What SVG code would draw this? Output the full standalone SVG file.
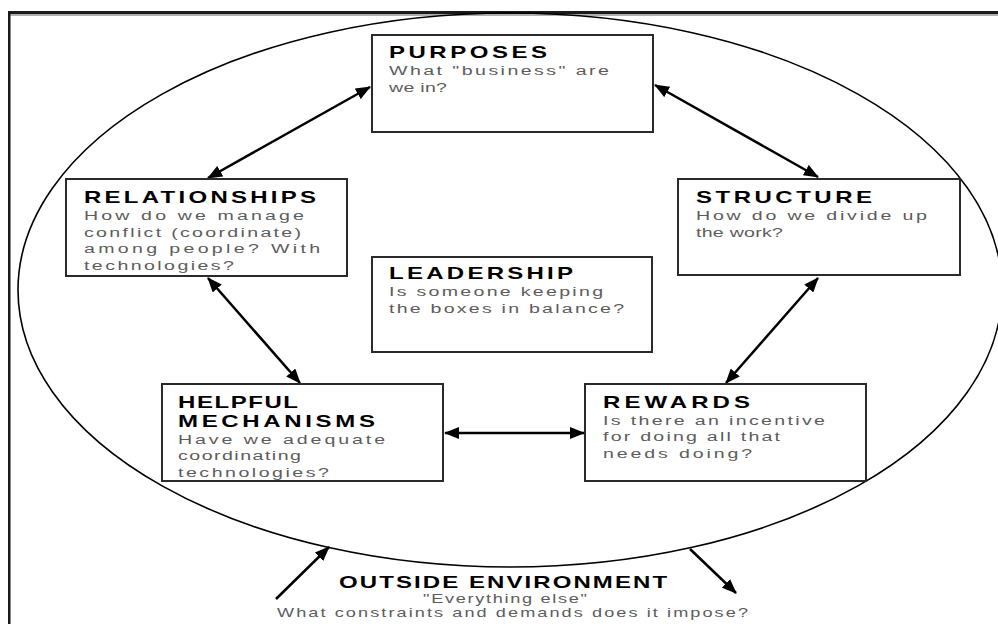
<svg xmlns="http://www.w3.org/2000/svg" width="998" height="624" viewBox="0 0 998 624">
  <style>
    .box { fill: #ffffff; stroke: #2a2a2a; stroke-width: 2; }
    .title { font-family: "Liberation Sans", Arial, sans-serif; font-weight: bold; font-size: 16px; fill: #000000; }
    .body { font-family: "Liberation Sans", Arial, sans-serif; font-size: 13.5px; fill: #5c5c5c; }
    .small { font-size: 12.5px; }
    .conn { stroke: #000000; stroke-width: 2.5; fill: none; }
  </style>
  <defs>
    <marker id="ah" viewBox="0 0 15 12" refX="14" refY="6" markerWidth="15" markerHeight="12" markerUnits="userSpaceOnUse" orient="auto-start-reverse">
      <path d="M0,0 L15,6 L0,12 z" fill="#000000"/>
    </marker>
  </defs>
  <rect x="0" y="0" width="998" height="624" fill="#ffffff"/>
  <!-- frame -->
  <rect x="8" y="11" width="990" height="3" fill="#1a1a1a"/>
  <rect x="10" y="14" width="988" height="2" fill="#b0b0b0"/>
  <rect x="8" y="11" width="2.5" height="613" fill="#1a1a1a"/>
  <!-- environment ellipse -->
  <ellipse cx="510" cy="290" rx="492" ry="277" fill="none" stroke="#000000" stroke-width="1.6"/>

  <g id="connectors">
    <line class="conn" x1="208" y1="178" x2="370" y2="87" marker-start="url(#ah)" marker-end="url(#ah)"/>
    <line class="conn" x1="655" y1="85" x2="818" y2="177" marker-start="url(#ah)" marker-end="url(#ah)"/>
    <line class="conn" x1="208" y1="278" x2="300" y2="383" marker-start="url(#ah)" marker-end="url(#ah)"/>
    <line class="conn" x1="818" y1="278" x2="726" y2="383" marker-start="url(#ah)" marker-end="url(#ah)"/>
    <line class="conn" x1="445" y1="433" x2="584" y2="433" marker-start="url(#ah)" marker-end="url(#ah)"/>
    <line class="conn" x1="276" y1="599" x2="329" y2="547" marker-end="url(#ah)"/>
    <line class="conn" x1="690" y1="549" x2="736" y2="593" marker-end="url(#ah)"/>
  </g>

  <g id="purposes">
    <rect class="box" x="372" y="35" width="281" height="97"/>
    <text class="title" transform="translate(389 58) scale(1.5 1)" textLength="105.3" lengthAdjust="spacing">PURPOSES</text>
    <text class="body" transform="translate(389 75) scale(1.45 1)" textLength="151.7" lengthAdjust="spacing">What "business" are</text>
    <text class="body" transform="translate(389 92) scale(1.45 1)" textLength="40" lengthAdjust="spacing">we in?</text>
  </g>

  <g id="relationships">
    <rect class="box" x="66" y="179" width="281" height="97"/>
    <text class="title" transform="translate(84 203) scale(1.5 1)" textLength="154.7" lengthAdjust="spacing">RELATIONSHIPS</text>
    <text class="body" transform="translate(84 220) scale(1.45 1)" textLength="151.7" lengthAdjust="spacing">How do we manage</text>
    <text class="body" transform="translate(84 236.5) scale(1.45 1)" textLength="149.7" lengthAdjust="spacing">conflict (coordinate)</text>
    <text class="body" transform="translate(84 253) scale(1.45 1)" textLength="162.8" lengthAdjust="spacing">among people? With</text>
    <text class="body" transform="translate(84 269.5) scale(1.45 1)" textLength="103.4" lengthAdjust="spacing">technologies?</text>
  </g>

  <g id="leadership">
    <rect class="box" x="372" y="257" width="280" height="95"/>
    <text class="title" transform="translate(389 279) scale(1.5 1)" textLength="122.7" lengthAdjust="spacing">LEADERSHIP</text>
    <text class="body" transform="translate(389 296) scale(1.45 1)" textLength="147.6" lengthAdjust="spacing">Is someone keeping</text>
    <text class="body" transform="translate(389 312.5) scale(1.45 1)" textLength="162.1" lengthAdjust="spacing">the boxes in balance?</text>
  </g>

  <g id="structure">
    <rect class="box" x="678" y="179" width="282" height="96"/>
    <text class="title" transform="translate(696 203) scale(1.5 1)" textLength="117.3" lengthAdjust="spacing">STRUCTURE</text>
    <text class="body" transform="translate(696 220) scale(1.45 1)" textLength="159.3" lengthAdjust="spacing">How do we divide up</text>
    <text class="body" transform="translate(696 236.5) scale(1.45 1)" textLength="60" lengthAdjust="spacing">the work?</text>
  </g>

  <g id="helpful-mechanisms">
    <rect class="box" x="162" y="384" width="281" height="97"/>
    <text class="title" transform="translate(178 408) scale(1.5 1)" textLength="80" lengthAdjust="spacing">HELPFUL</text>
    <text class="title" transform="translate(178 427) scale(1.5 1)" textLength="131.3" lengthAdjust="spacing">MECHANISMS</text>
    <text class="body" transform="translate(178 443.5) scale(1.45 1)" textLength="142.8" lengthAdjust="spacing">Have we adequate</text>
    <text class="body" transform="translate(178 460) scale(1.45 1)" textLength="84.8" lengthAdjust="spacing">coordinating</text>
    <text class="body" transform="translate(178 477) scale(1.45 1)" textLength="104.1" lengthAdjust="spacing">technologies?</text>
  </g>

  <g id="rewards">
    <rect class="box" x="585" y="384" width="281" height="97"/>
    <text class="title" transform="translate(603 408) scale(1.5 1)" textLength="98" lengthAdjust="spacing">REWARDS</text>
    <text class="body" transform="translate(603 424.5) scale(1.45 1)" textLength="153.1" lengthAdjust="spacing">Is there an incentive</text>
    <text class="body" transform="translate(603 441) scale(1.45 1)" textLength="122.1" lengthAdjust="spacing">for doing all that</text>
    <text class="body" transform="translate(603 457.5) scale(1.45 1)" textLength="102.8" lengthAdjust="spacing">needs doing?</text>
  </g>

  <g id="outside-environment">
    <text class="title" transform="translate(339 588) scale(1.5 1)" textLength="218.7" lengthAdjust="spacing">OUTSIDE ENVIRONMENT</text>
    <text class="body small" transform="translate(423 603) scale(1.45 1)" textLength="113.1" lengthAdjust="spacing">"Everything else"</text>
    <text class="body small" transform="translate(277 617) scale(1.45 1)" textLength="324.8" lengthAdjust="spacing">What constraints and demands does it impose?</text>
  </g>
</svg>
